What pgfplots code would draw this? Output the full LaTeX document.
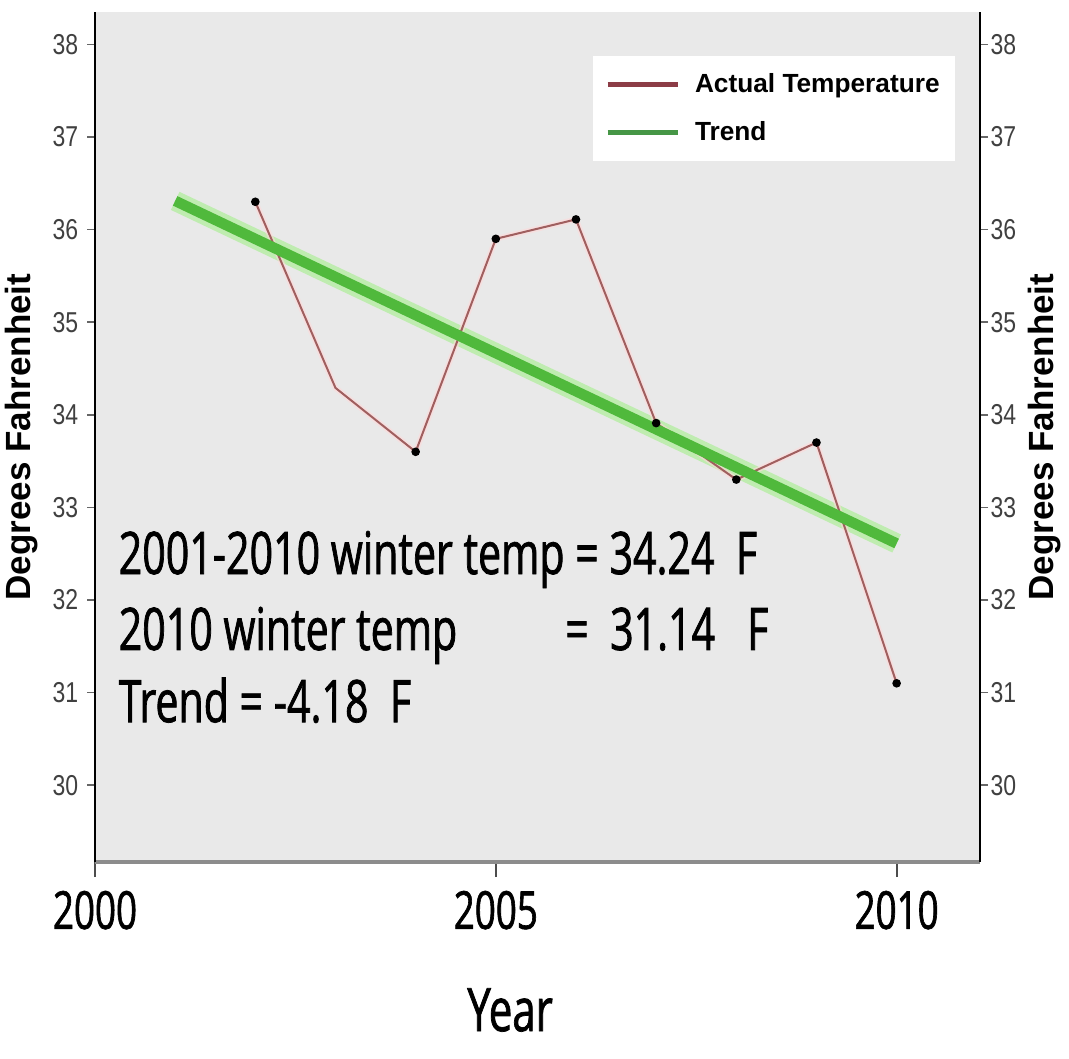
\documentclass[border=0pt]{standalone}
\usepackage{pgfplots}
\usepackage{pgfplotstable}
\pgfplotsset{compat=1.18}
\usepackage{fontspec}
\setmainfont{Liberation Sans}
\newfontfamily\comic[FakeStretch=0.7, FakeBold=1.2]{Open Sans}
\newfontfamily\tickfont[FakeStretch=0.8]{Liberation Sans}

\definecolor{panel}{RGB}{233,233,233}
\definecolor{templine}{RGB}{160,95,95}
\definecolor{templeg}{RGB}{140,60,70}
\definecolor{trendgreen}{RGB}{80,185,60}
\definecolor{trendglow}{RGB}{150,240,120}
\definecolor{trendleg}{RGB}{70,150,70}

\pgfplotstableread{
year temp
2002 36.30
2003 34.29
2004 33.60
2005 35.90
2006 36.11
2007 33.91
2008 33.30
2009 33.70
2010 31.10
}\actual

\pgfplotstableread{
year temp
2001 36.31
2010 32.61
}\trend

\pgfplotsset{
  common/.style={
    at={(38pt,78.4pt)}, anchor=south west,
    scale only axis, width=354pt, height=340pt,
    xmin=2000, xmax=2011.04, ymin=29.17, ymax=38.35,
    /pgf/number format/assume math mode=true,
  },
}

\begin{document}
\begin{tikzpicture}
\useasboundingbox (0,0) rectangle (427.6pt,423.2pt);
\fill[white] (0,0) rectangle (427.6pt,423.2pt);

% main axis: data, x axis, legend
\begin{axis}[common,
  axis background/.style={fill=panel},
  axis x line*=bottom, axis y line=none,
  x axis line style={draw=black!45, line width=1.6pt, -},
  xtick={2000,2005,2010}, xticklabels={2000,2005,2010},
  tick align=outside, major tick length=6pt,
  xtick style={black!70, line width=0.8pt},
  xticklabel style={font=\comic\fontsize{21}{24}\selectfont, yshift=-2pt},
  ytick=\empty,
  xlabel={Year},
  xlabel style={font=\comic\fontsize{24}{28}\selectfont, at={(axis description cs:0.469,0)}, anchor=center, yshift=-59.2pt},
  legend style={at={(rel axis cs:0.5616,0.949)}, anchor=north west, fill=white, draw=none,
    font=\bfseries\fontsize{10.5}{12}\selectfont, inner xsep=5pt, inner ysep=5pt, row sep=6pt,
    column sep=5pt, nodes={inner xsep=1pt}},
  legend cell align=left,
]
\addplot[trendglow, line width=8pt, opacity=0.5, forget plot] table[x=year, y=temp] {\trend};
\addplot[pink!60, line width=2.2pt, opacity=0.6, forget plot] table[x=year, y=temp] {\actual};
\addplot[templine, line width=0.8pt, mark=*, mark size=1.3pt, mark options={black, fill=black},
  mark indices={1,3,4,5,6,7,8,9},
  legend image code/.code={\draw[templeg, line width=2pt] (0pt,0pt) -- (28pt,0pt);}]
  table[x=year, y=temp] {\actual};
\addlegendentry{Actual Temperature}
\addplot[trendgreen, line width=4.2pt,
  legend image code/.code={\draw[trendleg, line width=2pt] (0pt,0pt) -- (28pt,0pt);}]
  table[x=year, y=temp] {\trend};
\addlegendentry{Trend}

\node[anchor=base west, inner sep=0pt, font=\comic\fontsize{23.5}{28}\selectfont] at (axis cs:2000.29,32.28) {2001-2010 winter temp = 34.24\ \ F};
\node[anchor=base west, inner sep=0pt, font=\comic\fontsize{23.5}{28}\selectfont] at (axis cs:2000.29,31.46) {2010 winter temp};
\node[anchor=base west, inner sep=0pt, font=\comic\fontsize{23.5}{28}\selectfont] at (axis cs:2005.86,31.46) {=\ \ 31.14\ \ \ F};
\node[anchor=base west, inner sep=0pt, font=\comic\fontsize{23.5}{28}\selectfont] at (axis cs:2000.29,30.68) {Trend = -4.18\ \ F};
\end{axis}

% left y axis
\begin{axis}[common,
  axis x line=none, axis y line*=left,
  y axis line style={black, line width=0.8pt, -},
  ytick={30,31,...,38},
  tick align=outside, major tick length=3.2pt,
  ytick style={black!60, line width=0.6pt},
  yticklabel style={font=\tickfont\fontsize{11.5}{12}\selectfont, text=black!75},
  ylabel={Degrees Fahrenheit},
  ylabel style={font=\bfseries\fontsize{14}{16}\selectfont, at={(axis description cs:-0.0825,0.5)}, anchor=center},
]
\end{axis}

% right y axis
\begin{axis}[common,
  axis x line=none, axis y line*=right,
  y axis line style={black, line width=0.8pt, -},
  ytick={30,31,...,38},
  tick align=outside, major tick length=3.2pt,
  ytick style={black!60, line width=0.6pt},
  yticklabel style={font=\tickfont\fontsize{11.5}{12}\selectfont, text=black!75, xshift=-2.5pt},
  ylabel={Degrees Fahrenheit},
  ylabel style={font=\bfseries\fontsize{14}{16}\selectfont, at={(axis description cs:1.0734,0.5)}, anchor=center, rotate=0},
]
\end{axis}
\end{tikzpicture}
\end{document}
